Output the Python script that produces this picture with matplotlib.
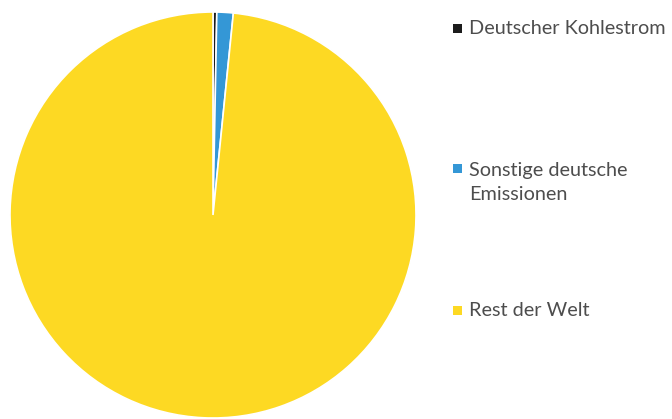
import matplotlib
matplotlib.use("Agg")
import matplotlib.pyplot as plt
from matplotlib.patches import Rectangle

# shares of global CO2 emissions (percent)
labels = ["Deutscher Kohlestrom", "Sonstige deutsche\nEmissionen", "Rest der Welt"]
shares = [0.3, 1.3, 98.4]
colors = ["#1c1c1c", "#3497d6", "#fdd923"]

# legend text positions (figure y in pixels from top, centre of the text block)
legend_y = [29, 182.5, 310]

W, H = 672, 419
fig = plt.figure(figsize=(W / 100, H / 100), dpi=100)
ax = fig.add_axes([(213 - 203) / W, 1 - (215 + 203) / H, 406 / W, 406 / H])
ax.pie(shares, colors=colors, startangle=90, counterclock=False,
       wedgeprops=dict(edgecolor="white", linewidth=1.2))
ax.set_xlim(-1, 1)
ax.set_ylim(-1, 1)
ax.set_aspect("equal")

for lab, col, y in zip(labels, colors, legend_y):
    first_line_y = y if "\n" not in lab else y - 13.5
    fig.patches.append(Rectangle((453 / W, 1 - (first_line_y + 4.5) / H), 9 / W, 9 / H,
                                 transform=fig.transFigure, facecolor=col, edgecolor="none"))
    fig.text(469 / W, 1 - y / H, lab, fontsize=14.3, color="#4d4d4d",
             family="Lato", va="center", ha="left", linespacing=1.57)

fig.savefig("out.png", dpi=100)
